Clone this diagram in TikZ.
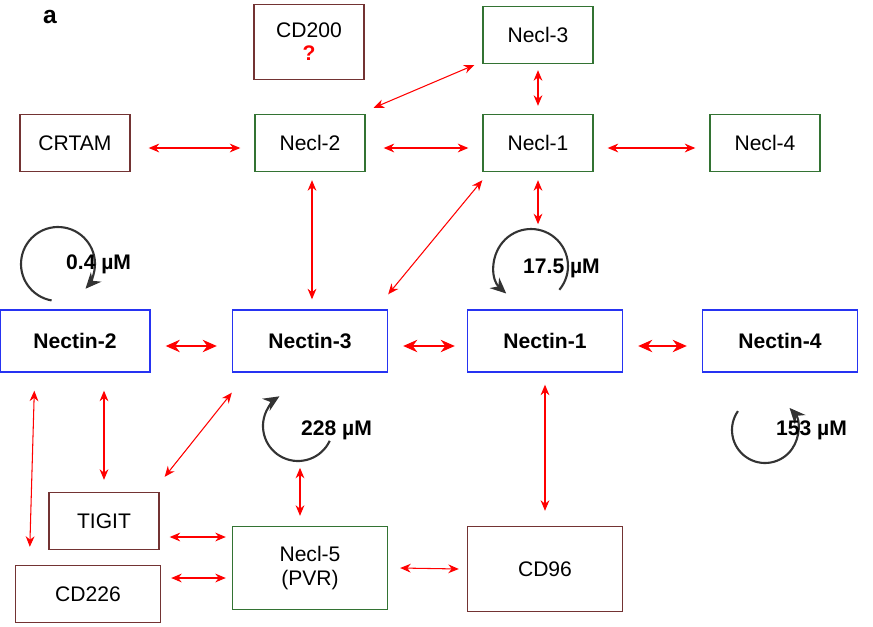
\documentclass[tikz,border=0pt]{standalone}
\usepackage{fontspec}
\setmainfont{Liberation Sans}
\usetikzlibrary{calc,arrows.meta}
\definecolor{boxgreen}{rgb}{0.2, 0.45, 0.2}
\definecolor{boxbrown}{rgb}{0.45, 0.2, 0.2}
\definecolor{boxblue}{rgb}{0.15, 0.2, 0.95}
\tikzset{
  gbox/.style={draw=boxgreen, thick, minimum width=2.2cm, minimum height=1.14cm, font=\fontsize{12}{14}\selectfont},
  bbox/.style={draw=boxbrown, thick, minimum width=2.2cm, minimum height=1.14cm, font=\fontsize{12}{14}\selectfont},
  nbox/.style={draw=boxblue, thick, minimum width=3.1cm, minimum height=1.24cm, font=\fontsize{12}{14}\selectfont\bfseries},
  link/.style={red, semithick, {Stealth[length=6pt,width=5pt]}-{Stealth[length=6pt,width=5pt]}},
  blink/.style={red, very thick, {Stealth[length=8pt,width=7pt]}-{Stealth[length=8pt,width=7pt]}},
  loop/.style={black!80, very thick, -{Stealth[length=9pt,width=8pt]}},
  kd/.style={font=\fontsize{12}{14}\selectfont\bfseries}
}
\begin{document}
\begin{tikzpicture}[x=0.02cm,y=-0.02cm]
  \useasboundingbox (0,0) rectangle (873,626);
  \node[font=\fontsize{14}{16}\selectfont\bfseries] (lab) at (50,17) {a};

  % top rows
  \node[bbox, minimum height=1.5cm, align=center] (cd200) at (309,42) {CD200\\[-1pt]{\color{red}\bfseries ?}};
  \node[gbox] (necl3) at (538,35) {Necl-3};
  \node[bbox] (crtam) at (75,143) {CRTAM};
  \node[gbox] (necl2) at (310,143) {Necl-2};
  \node[gbox] (necl1) at (538,143) {Necl-1};
  \node[gbox] (necl4) at (765,143) {Necl-4};

  % nectins
  \node[nbox, minimum width=3cm] (nec2) at (75,341) {Nectin-2};
  \node[nbox] (nec3) at (310,341) {Nectin-3};
  \node[nbox] (nec1) at (545,341) {Nectin-1};
  \node[nbox] (nec4) at (780,341) {Nectin-4};

  % bottom rows
  \node[bbox] (tigit) at (104,521) {TIGIT};
  \node[bbox, minimum width=2.9cm] (cd226) at (88,594) {CD226};
  \node[gbox, minimum width=3.1cm, minimum height=1.66cm, align=center] (necl5) at (310,568) {Necl-5\\(PVR)};
  \node[bbox, minimum width=3.1cm, minimum height=1.7cm] (cd96) at (545,569) {CD96};

  % connectors
  \draw[link] ($(necl2.north east)+(8,-6)$) -- ($(necl3.west)+(-8,30)$);
  \draw[link] ($(necl3.south)+(0,6)$) -- ($(necl1.north)+(0,-8)$);
  \draw[link] ($(crtam.east)+(18,5)$) -- ($(necl2.west)+(-14,5)$);
  \draw[link] ($(necl2.east)+(18,5)$) -- ($(necl1.west)+(-14,5)$);
  \draw[link] ($(necl1.east)+(14,5)$) -- ($(necl4.west)+(-14,5)$);
  \draw[link] ($(necl2.south)+(2,8)$) -- ($(nec3.north)+(2,-10)$);
  \draw[link] ($(necl1.south)+(0,8)$) -- ($(necl1.south)+(0,52)$);
  \draw[link] ($(necl1.south west)+(0,8)$) -- ($(nec3.north east)+(0,-15)$);
  \draw[blink] ($(nec2.east)+(15,5)$) -- ($(nec3.west)+(-15,5)$);
  \draw[blink] ($(nec3.east)+(15,5)$) -- ($(nec1.west)+(-12,5)$);
  \draw[blink] ($(nec1.east)+(15,5)$) -- ($(nec4.west)+(-15,5)$);
  \draw[link] ($(nec2.south west)+(35,18)$) -- ($(cd226.north west)+(15,-18)$);
  \draw[link] ($(nec2.south -| tigit.north)+(0,18)$) -- ($(tigit.north)+(0,-12)$);
  \draw[link] ($(tigit.north east)+(5,-15)$) -- ($(nec3.south west)+(0,20)$);
  \draw[link] ($(necl5.north)+(-10,-58)$) -- ($(necl5.north)+(-10,-10)$);
  \draw[link] ($(nec1.south)+(0,12)$) -- ($(cd96.north)+(0,-15)$);
  \draw[link] ($(tigit.east)+(10,16)$) -- ($(necl5.west)+(-6,-31)$);
  \draw[link] ($(cd226.east)+(10,-16)$) -- ($(necl5.west)+(-6,10)$);
  \draw[link] ($(necl5.east)+(12,0)$) -- ($(cd96.west)+(-8,0)$);

  % self binding loops
  \coordinate (l2) at (58,264);
  \draw[loop] ($(l2)+(100:37)$) arc (100:402:37);
  \node[kd, anchor=west] (k2) at (60,264) {0.4 µM};
  \coordinate (l1) at (531,266);
  \draw[loop] ($(l1)+(40:37)$) arc (40:-228:37);
  \node[kd, anchor=west] (k1) at (517,268) {17.5 µM};
  \coordinate (l3) at (298,426);
  \draw[loop] ($(l3)+(25:35)$) arc (25:238:35);
  \node[kd, anchor=west] (k3) at (295,430) {228 µM};
  \coordinate (l4) at (765,430);
  \draw[loop] ($(l4)+(-145:33)$) arc (-145:-402:33);
  \node[kd, anchor=west] (k4) at (770,430) {153 µM};
\end{tikzpicture}
\end{document}
